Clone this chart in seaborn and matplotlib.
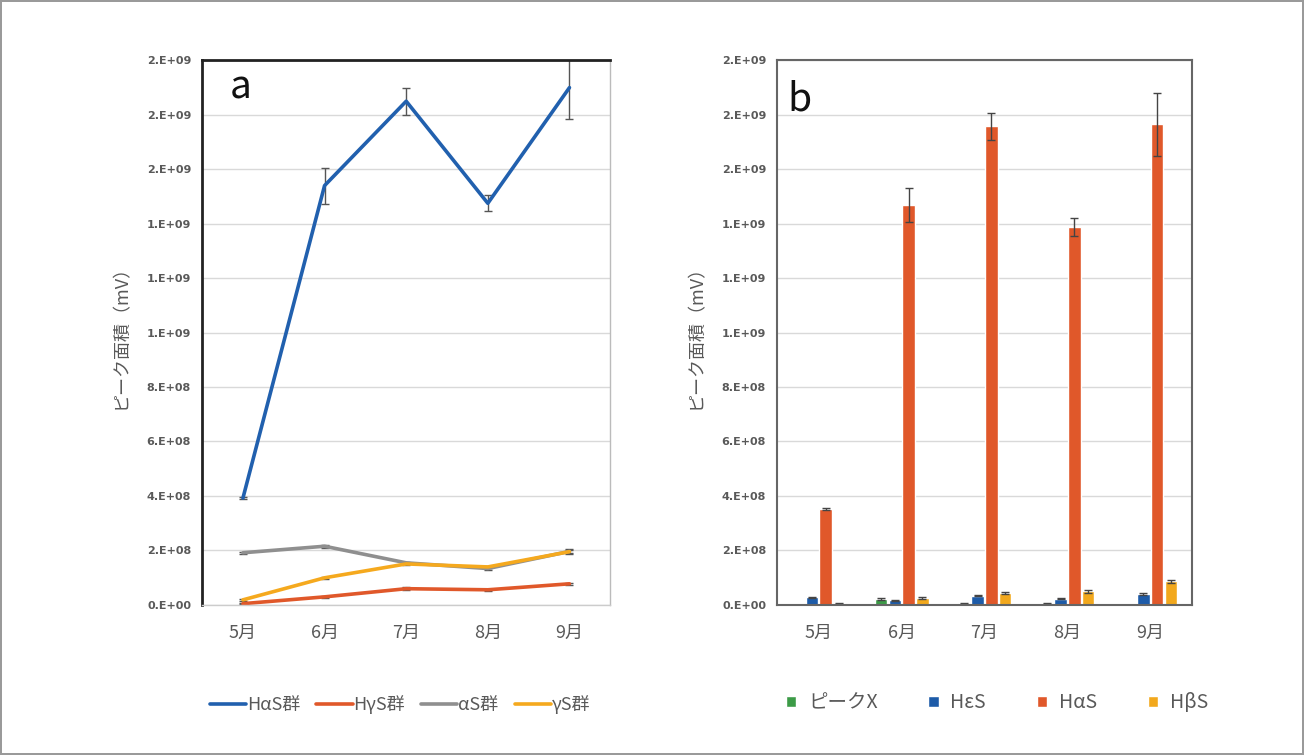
import numpy as np
import pandas as pd
import matplotlib
matplotlib.use("Agg")
import matplotlib.pyplot as plt
import seaborn as sns

# 月
months = ["5月", "6月", "7月", "8月", "9月"]

# a: ライン (平均, 誤差)
line_names = ["HαS群", "HγS群", "αS群", "γS群"]
has_grp = [3.92e8, 1.54e9, 1.85e9, 1.475e9, 1.90e9]
has_grp_err = [4e6, 6.6e7, 5.0e7, 3.0e7, 1.17e8]
hgs_grp = [4e6, 2.9e7, 5.9e7, 5.5e7, 7.7e7]
hgs_grp_err = [3e6, 4e6, 5e6, 3e6, 4e6]
as_grp = [1.91e8, 2.15e8, 1.54e8, 1.33e8, 1.96e8]
as_grp_err = [3e6, 6e6, 4e6, 4e6, 1.0e7]
gs_grp = [1.8e7, 9.9e7, 1.50e8, 1.39e8, 1.95e8]
gs_grp_err = [3e6, 4e6, 4e6, 4e6, 6e6]
line_colors = ["#2160AE", "#E0582A", "#8F8F8F", "#F5A91E"]

# b: 棒 (平均, 誤差)
bar_names = ["ピークX", "HεS", "HαS", "HβS"]
peak_x = [0, 2.2e7, 5e6, 4e6, 0]
peak_x_err = [0, 3e6, 1e6, 1e6, 0]
hes = [2.8e7, 1.6e7, 3.4e7, 2.2e7, 3.9e7]
hes_err = [2e6, 2e6, 3e6, 2e6, 3e6]
has = [3.52e8, 1.47e9, 1.758e9, 1.387e9, 1.765e9]
has_err = [3e6, 6.2e7, 5.0e7, 3.3e7, 1.16e8]
hbs = [5e6, 2.5e7, 4.3e7, 4.9e7, 8.6e7]
hbs_err = [1e6, 3e6, 4e6, 4e6, 6e6]
bar_colors = ["#3C9B47", "#1D5BA8", "#E0582A", "#F2A81D"]

yticks = np.arange(0, 2.01e9, 2e8)
ytick_labels = ["0.E+00", "2.E+08", "4.E+08", "6.E+08", "8.E+08", "1.E+09",
                "1.E+09", "1.E+09", "2.E+09", "2.E+09", "2.E+09"]

sns.set_theme(style="white")
plt.rcParams["font.family"] = ["Noto Sans CJK JP", "DejaVu Sans"]
txt = "#595959"

line_df = pd.DataFrame({
    "月": months * 4,
    "系列": sum([[n] * 5 for n in line_names], []),
    "値": has_grp + hgs_grp + as_grp + gs_grp,
})
line_err = [has_grp_err, hgs_grp_err, as_grp_err, gs_grp_err]
line_vals = [has_grp, hgs_grp, as_grp, gs_grp]

bar_df = pd.DataFrame({
    "月": months * 4,
    "系列": sum([[n] * 5 for n in bar_names], []),
    "値": peak_x + hes + has + hbs,
})
bar_err = [peak_x_err, hes_err, has_err, hbs_err]

fig = plt.figure(figsize=(13.04, 7.55), dpi=100)
fig.patch.set_edgecolor("#9a9a9a")
fig.patch.set_linewidth(1.5)
ax1 = fig.add_axes([0.155, 0.199, 0.313, 0.721])
ax2 = fig.add_axes([0.596, 0.199, 0.318, 0.721])

# --- a ---
sns.lineplot(data=line_df, x="月", y="値", hue="系列", palette=line_colors,
             hue_order=line_names, sort=False, lw=2.6, errorbar=None, ax=ax1)
for vals, errs in zip(line_vals, line_err):
    ax1.errorbar(months, vals, yerr=errs, fmt="none", ecolor="#555555",
                 elinewidth=1, capsize=3, capthick=1, zorder=1)

# --- b ---
sns.barplot(data=bar_df, x="月", y="値", hue="系列", palette=bar_colors,
            hue_order=bar_names, errorbar=None, width=0.67, saturation=1,
            ax=ax2)
for cont, errs in zip(ax2.containers, bar_err):
    xs = [p.get_x() + p.get_width() / 2 for p in cont.patches]
    hs = [p.get_height() for p in cont.patches]
    for p in cont.patches:
        w = p.get_width()
        p.set_width(w * 0.88)
        p.set_x(p.get_x() + w * 0.06)
    ax2.errorbar(xs, hs, yerr=errs, fmt="none", ecolor="#444444",
                 elinewidth=1, capsize=3, capthick=1)

for ax in (ax1, ax2):
    ax.set_ylim(0, 2.0e9)
    ax.set_xlim(-0.5, 4.5)
    ax.set_yticks(yticks)
    ax.set_yticklabels(ytick_labels, fontsize=8, color=txt, fontweight="bold",
                       family=["DejaVu Sans"])
    ax.tick_params(axis="y", length=0, pad=8)
    ax.tick_params(axis="x", length=0, pad=14, labelsize=13, labelcolor=txt)
    ax.grid(axis="y", color="#d9d9d9", lw=1)
    ax.set_axisbelow(True)
    ax.set_xlabel("")
    ax.set_ylabel("ピーク面積（mV）", fontsize=13, color=txt, labelpad=12)

# spines a
for s in ["left", "top"]:
    ax1.spines[s].set_color("#222222")
    ax1.spines[s].set_linewidth(2)
ax1.spines["right"].set_color("#bbbbbb")
ax1.spines["right"].set_linewidth(1)
ax1.spines["bottom"].set_color("#cccccc")
ax1.spines["bottom"].set_linewidth(1)
ax1.set_xticks(np.arange(-0.5, 5, 1), minor=True)
ax1.tick_params(axis="x", which="minor", length=7, color="#cccccc", width=1)

# spines b
for s in ax2.spines.values():
    s.set_color("#666666")
    s.set_linewidth(1.5)

ax1.text(0.068, 0.930, "a", transform=ax1.transAxes, fontsize=28,
         va="baseline", color="#111111")
ax2.text(0.024, 0.908, "b", transform=ax2.transAxes, fontsize=28,
         va="baseline", color="#111111")

ax1.legend(loc="center", bbox_to_anchor=(0.485, -0.183), ncol=4, frameon=False,
           handlelength=2.0, handletextpad=0.05, columnspacing=0.9,
           fontsize=13, labelcolor=txt)
leg = ax2.legend(loc="center", bbox_to_anchor=(0.53, -0.180), ncol=4,
                 frameon=False, handlelength=0.55, handleheight=0.55,
                 handletextpad=0.6, columnspacing=2.6, fontsize=14,
                 labelcolor=txt)

fig.savefig("out.png", dpi=100)
